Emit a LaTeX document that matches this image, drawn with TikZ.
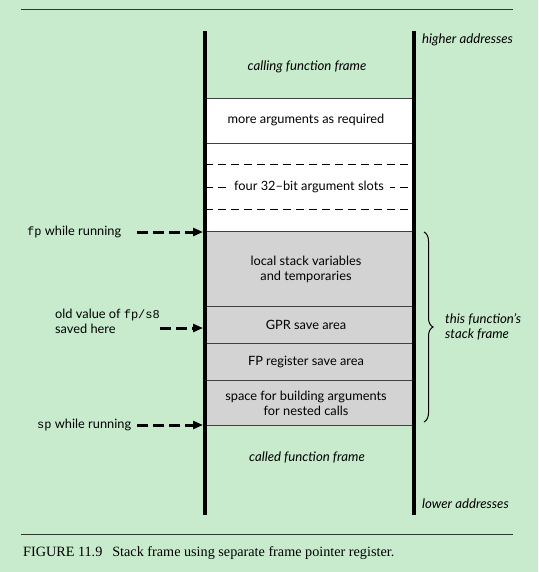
\documentclass[tikz,border=0pt]{standalone}
\usepackage{fontspec}
\setmainfont{Lato}
\newfontfamily\capfont{Liberation Serif}
\newfontfamily\monofont{Liberation Mono}
\usetikzlibrary{decorations.pathreplacing,arrows.meta}
\definecolor{bg}{RGB}{200,235,205}
\definecolor{cellgray}{RGB}{211,211,211}
\definecolor{rulec}{RGB}{45,55,45}
\newcommand{\mt}[1]{{\monofont\fontsize{12}{13}\selectfont #1}}
\begin{document}
\begin{tikzpicture}[x=1pt,y=-1pt,
  txt/.style={font=\fontsize{12.8}{15}\selectfont, inner sep=0pt},
  itxt/.style={font=\fontsize{13.2}{15}\selectfont\itshape, inner sep=0pt},
  ctxt/.style={font=\capfont\fontsize{14.2}{16}\selectfont, inner sep=0pt},
  cell/.style={draw=black!75, line width=0.9pt},
  wall/.style={line width=3.4pt},
  slot/.style={line width=0.9pt, dash pattern=on 8pt off 5pt},
  ptr/.style={line width=3pt, dash pattern=on 11pt off 5pt, -{Triangle[length=10pt,width=8pt]}},
  hrule/.style={draw=rulec, line width=1pt}]
\fill[bg] (0,0) rectangle (538,572);
\useasboundingbox (0,0) rectangle (538,572);
% rules
\coordinate (rtl) at (21,10); \coordinate (rtr) at (513,10);
\coordinate (rbl) at (21,534); \coordinate (rbr) at (513,534);
\draw[hrule] (rtl) -- (rtr);
\draw[hrule] (rbl) -- (rbr);
% white argument area
\fill[white] (205,98) rectangle (414,231);
\fill[cellgray] (205,231) rectangle (414,425);
\draw[cell] (205,98) -- (414,98);
\draw[cell] (205,143) -- (414,143);
\draw[slot] (205,164) -- (414,164);
\draw[slot] (205,187) -- (414,187);
\draw[slot] (205,209) -- (414,209);
\draw[cell] (205,231) -- (414,231);
\draw[cell] (205,306) -- (414,306);
\draw[cell] (205,343) -- (414,343);
\draw[cell] (205,380) -- (414,380);
\draw[cell] (205,425) -- (414,425);
% walls
\coordinate (lt) at (205,31); \coordinate (lb) at (205,515);
\coordinate (rt) at (414,31); \coordinate (rb) at (414,515);
\draw[wall] (lt) -- (lb);
\draw[wall] (rt) -- (rb);
% cell texts
\node[itxt] (calling) at (307,67) {calling function frame};
\node[txt] (more) at (306,120) {more arguments as required};
\node[txt, fill=white, inner xsep=6pt, inner ysep=2pt] (four) at (309,187) {four 32--bit argument slots};
\node[txt, align=center] (local) at (306,269) {local stack variables\\ and temporaries};
\node[txt] (gpr) at (306,325) {GPR save area};
\node[txt] (fpr) at (306,362) {FP register save area};
\node[txt, align=center] (space) at (306,403) {space for building arguments\\ for nested calls};
\node[itxt] (called) at (307,457) {called function frame};
% right side
\node[itxt, anchor=west] (higher) at (422,40) {higher addresses};
\node[itxt, anchor=west] (lower) at (422,504) {lower addresses};
\draw[decorate, decoration={brace, amplitude=9pt}, line width=1pt] (424,232) -- (424,422);
\node[itxt, anchor=west, align=left] (this) at (445,327) {this function's\\ stack frame};
% left side
\node[txt, anchor=west] (fpl) at (27,232) {\mt{fp} while running};
\node[txt, anchor=west, align=left] (oldl) at (55,321) {old value of \mt{fp/s8}\\ saved here};
\node[txt, anchor=west] (spl) at (37,425) {\mt{sp} while running};
\coordinate (fpA) at (137,232); \coordinate (fpB) at (203,232);
\coordinate (oldA) at (160,328); \coordinate (oldB) at (203,328);
\coordinate (spA) at (137,425); \coordinate (spB) at (203,425);
\draw[ptr] (fpA) -- (fpB);
\draw[ptr] (oldA) -- (oldB);
\draw[ptr] (spA) -- (spB);
% caption
\node[ctxt, anchor=west] (cap) at (23,553) {FIGURE 11.9\hspace{10pt}Stack frame using separate frame pointer register.};
\end{tikzpicture}
\end{document}
